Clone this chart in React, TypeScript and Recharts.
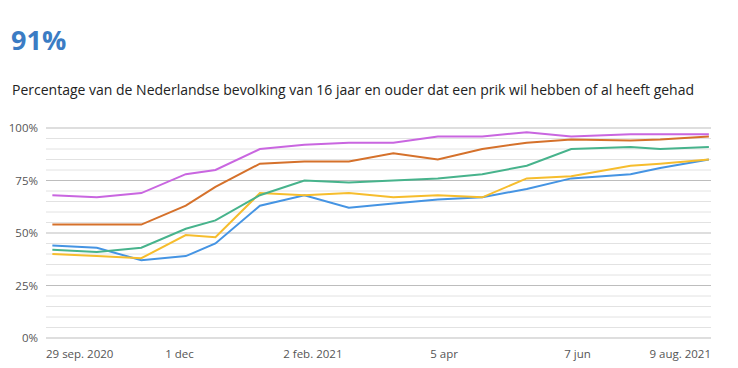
import React from 'react'
import { LineChart, Line, XAxis, YAxis, ReferenceLine } from 'recharts'

// days since 29 sep 2020
const days = [3, 24, 45, 66, 80, 101, 122, 143, 164, 185, 206, 227, 248, 276, 290, 313]
const purple = [68, 67, 69, 78, 80, 90, 92, 93, 93, 96, 96, 98, 96, 97, 97, 97]
const orange = [54, 54, 54, 63, 72, 83, 84, 84, 88, 85, 90, 93, 94.5, 94, 94.5, 96]
const green = [42, 41, 43, 52, 56, 68, 75, 74, 75, 76, 78, 82, 90, 91, 90, 91]
const yellow = [40, 39, 38, 49, 48, 69, 68, 69, 67, 68, 67, 76, 77, 82, 83, 85]
const blue = [44, 43, 37, 39, 45, 63, 68, 62, 64, 66, 67, 71, 76, 78, 81, 85]

const xTicks = [0, 63, 126, 188, 251, 314]
const xLabels = ['29 sep. 2020', '1 dec', '2 feb. 2021', '5 apr', '7 jun', '9 aug. 2021']
const yTicks = [0, 25, 50, 75, 100]
const minorTicks = [5, 10, 15, 20, 30, 35, 40, 45, 55, 60, 65, 70, 80, 85, 90, 95]

const data = days.map((d, i) => ({
  day: d,
  purple: purple[i],
  orange: orange[i],
  green: green[i],
  yellow: yellow[i],
  blue: blue[i],
}))

const font = '"Open Sans", "Noto Sans", sans-serif'

const XTick = (props: any) => {
  const { x, y, payload } = props
  const i = xTicks.indexOf(payload.value)
  const anchor = i === 0 ? 'start' : i === xTicks.length - 1 ? 'end' : 'middle'
  return (
    <text x={x} y={y} dy={12} textAnchor={anchor} fill="#555" fontSize={11.5} fontFamily={font}>
      {xLabels[i]}
    </text>
  )
}

export default function App() {
  return (
    <div style={{ position: 'absolute', left: 0, top: 0, width: 738, height: 368, background: '#fff', fontFamily: font }}>
      <div style={{ position: 'absolute', left: 11, top: 21, fontSize: 27, fontWeight: 700, color: '#3b7cc4' }}>91%</div>
      <div style={{ position: 'absolute', left: 12, top: 80, fontSize: 14, color: '#222', whiteSpace: 'nowrap' }}>
        Percentage van de Nederlandse bevolking van 16 jaar en ouder dat een prik wil hebben of al heeft gehad
      </div>
      <div style={{ position: 'absolute', left: 0, top: 0 }}>
        <LineChart width={738} height={368} data={data} margin={{ top: 128, right: 27, left: 0, bottom: 0 }}>
          <XAxis
            dataKey="day"
            type="number"
            domain={[0, 314]}
            ticks={xTicks}
            axisLine={false}
            tickLine={false}
            tick={<XTick />}
            height={30}
          />
          <YAxis
            type="number"
            domain={[0, 100]}
            ticks={yTicks}
            width={46}
            axisLine={false}
            tickLine={false}
            tickFormatter={(v: number) => `${v}%`}
            tick={{ fill: '#555', fontSize: 11.5, fontFamily: font }}
          />
          {minorTicks.map((v) => (
            <ReferenceLine key={`m${v}`} y={v} stroke="#e2e2e2" strokeWidth={1} />
          ))}
          {yTicks.map((v) => (
            <ReferenceLine key={`M${v}`} y={v} stroke="#bdbdbd" strokeWidth={1.2} />
          ))}
          <Line type="linear" dataKey="blue" stroke="#4594e3" strokeWidth={2} dot={false} isAnimationActive={false} />
          <Line type="linear" dataKey="yellow" stroke="#f6bd2d" strokeWidth={2} dot={false} isAnimationActive={false} />
          <Line type="linear" dataKey="green" stroke="#47b38c" strokeWidth={2} dot={false} isAnimationActive={false} />
          <Line type="linear" dataKey="orange" stroke="#d5712b" strokeWidth={2} dot={false} isAnimationActive={false} />
          <Line type="linear" dataKey="purple" stroke="#c966e0" strokeWidth={2} dot={false} isAnimationActive={false} />
        </LineChart>
      </div>
    </div>
  )
}
